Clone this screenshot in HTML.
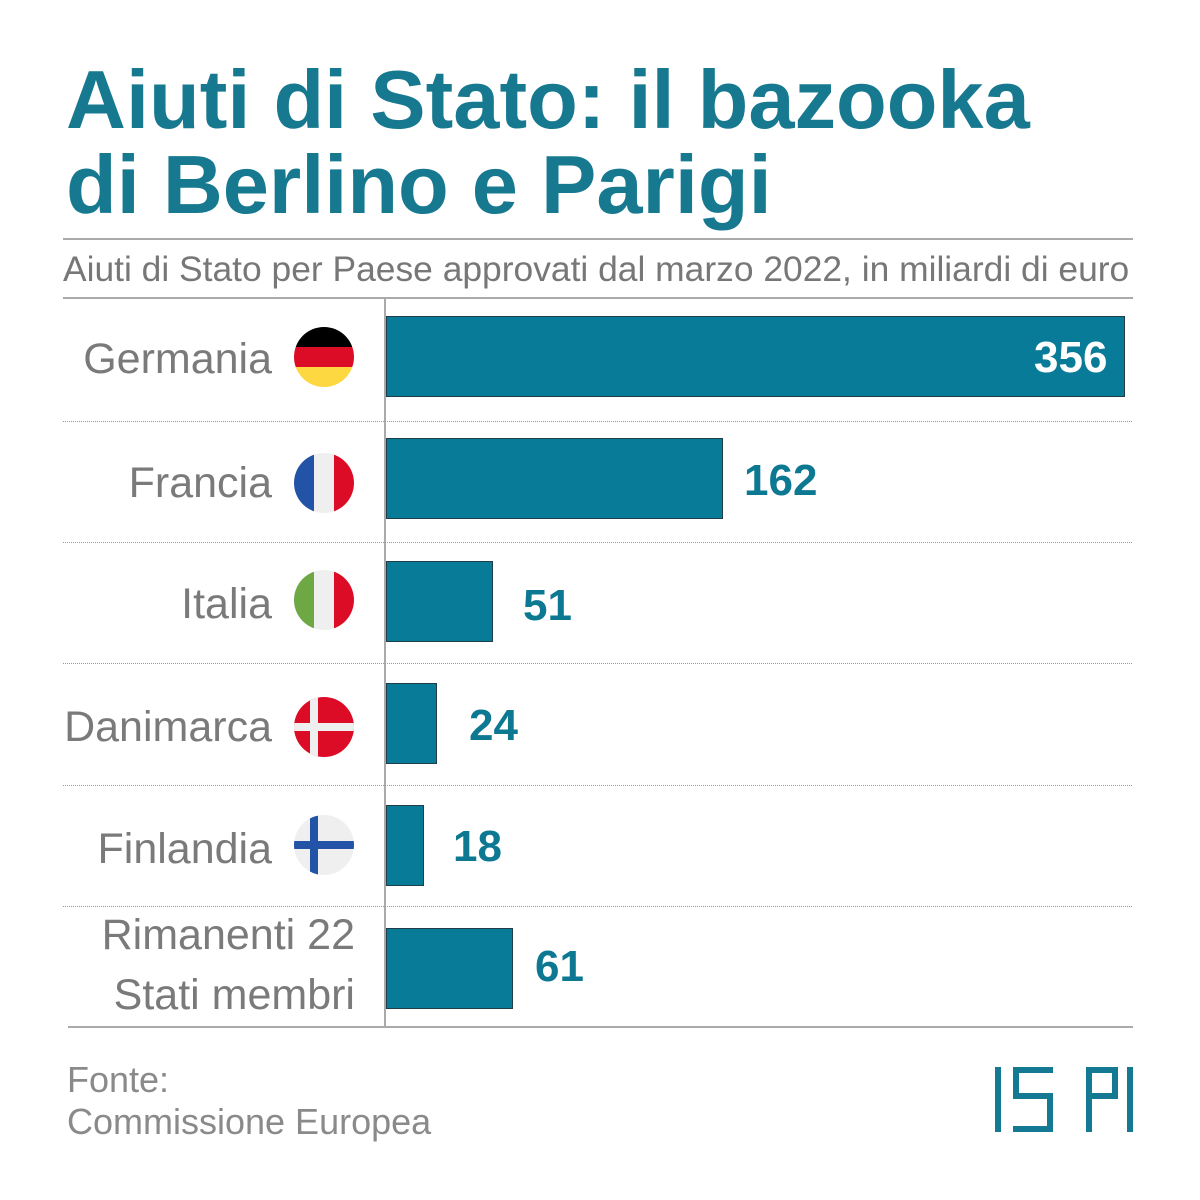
<!DOCTYPE html>
<html><head><meta charset="utf-8"><style>
body{margin:0;background:#fff;width:1200px;height:1200px;overflow:hidden;font-family:"Liberation Sans",sans-serif;}
.a{position:absolute;white-space:nowrap}
.t{color:#17798f;font-weight:bold;font-size:83px;left:66px;letter-spacing:0px}
.lab{color:#7a7a7a;font-size:43px;right:928px;text-align:right}
.bar{position:absolute;left:386px;height:81px;background:#077b97;border:1px solid #1f3e48;box-sizing:border-box}
.val{color:#0d7892;font-weight:bold;font-size:44px}
.dot{position:absolute;left:63px;width:1069px;border-top:1px dotted #999}
</style></head><body>
<div class="a t" style="top:52px">Aiuti di Stato: il bazooka</div>
<div class="a t" style="top:137px">di Berlino e Parigi</div>
<div class="a" style="left:63px;top:238px;width:1070px;border-top:2px solid #aaa"></div>
<div class="a" style="left:63px;top:297px;width:1070px;border-top:2px solid #aaa"></div>
<div class="a" style="left:63px;top:249px;font-size:35.4px;color:#777;">Aiuti di Stato per Paese approvati dal marzo 2022, in miliardi di euro</div>
<div class="a" style="left:384px;top:299px;height:728px;border-left:2px solid #aaa"></div>
<div class="a" style="left:68px;top:1026px;width:1065px;border-top:2px solid #aaa"></div>
<div class="dot" style="top:421px"></div><div class="dot" style="top:542px"></div><div class="dot" style="top:663px"></div><div class="dot" style="top:785px"></div><div class="dot" style="top:906px"></div>
<div class="a lab" style="top:335px">Germania</div>
<div class="a lab" style="top:459px">Francia</div>
<div class="a lab" style="top:580px">Italia</div>
<div class="a lab" style="top:703px">Danimarca</div>
<div class="a lab" style="top:825px">Finlandia</div>
<div class="a lab" style="top:905px;right:845px;line-height:60px">Rimanenti 22<br>Stati membri</div>
<svg class="a" style="left:0;top:0" width="1200" height="1200">
<defs><clipPath id="c"><circle r="30"/></clipPath></defs>
<g transform="translate(324,357)" clip-path="url(#c)"><rect x="-30" y="-30" width="60" height="20" fill="#000"/><rect x="-30" y="-10" width="60" height="20" fill="#dd0c26"/><rect x="-30" y="10" width="60" height="20" fill="#fdd840"/></g>
<g transform="translate(324,483)" clip-path="url(#c)"><rect x="-30" y="-30" width="20" height="60" fill="#2353a7"/><rect x="-10" y="-30" width="20" height="60" fill="#efefef"/><rect x="10" y="-30" width="20" height="60" fill="#dd0c26"/></g>
<g transform="translate(324,600)" clip-path="url(#c)"><rect x="-30" y="-30" width="20" height="60" fill="#6ea845"/><rect x="-10" y="-30" width="20" height="60" fill="#efefef"/><rect x="10" y="-30" width="20" height="60" fill="#dd0c26"/></g>
<g transform="translate(324,727)" clip-path="url(#c)"><rect x="-30" y="-30" width="60" height="60" fill="#dd0c26"/><rect x="-14" y="-30" width="8" height="60" fill="#efefef"/><rect x="-30" y="-4" width="60" height="8" fill="#efefef"/></g>
<g transform="translate(324,845)" clip-path="url(#c)"><rect x="-30" y="-30" width="60" height="60" fill="#efefef"/><rect x="-14" y="-30" width="8" height="60" fill="#2353a7"/><rect x="-30" y="-4" width="60" height="8" fill="#2353a7"/></g>
<g fill="#147a93">
<rect x="995" y="1067" width="6" height="65"/>
<rect x="1013" y="1067" width="40" height="6"/>
<rect x="1013" y="1067" width="6" height="32"/>
<rect x="1013" y="1093" width="40" height="6"/>
<rect x="1047" y="1093" width="6" height="39"/>
<rect x="1013" y="1126" width="40" height="6"/>
<rect x="1086" y="1067" width="6" height="65"/>
<rect x="1086" y="1067" width="32" height="6"/>
<rect x="1112" y="1067" width="6" height="32"/>
<rect x="1086" y="1093" width="32" height="6"/>
<rect x="1127" y="1067" width="6" height="65"/>
</g>
</svg>
<div class="bar" style="top:316px;width:739px"></div>
<div class="bar" style="top:438px;width:337px"></div>
<div class="bar" style="top:561px;width:107px"></div>
<div class="bar" style="top:683px;width:51px"></div>
<div class="bar" style="top:805px;width:38px"></div>
<div class="bar" style="top:928px;width:127px"></div>
<div class="a val" style="top:333px;left:1034px;color:#fff">356</div>
<div class="a val" style="top:456px;left:744px">162</div>
<div class="a val" style="top:581px;left:523px">51</div>
<div class="a val" style="top:701px;left:469px">24</div>
<div class="a val" style="top:822px;left:453px">18</div>
<div class="a val" style="top:942px;left:535px">61</div>
<div class="a" style="left:67px;top:1059px;font-size:36px;color:#8a8a8a;line-height:42px">Fonte:<br>Commissione Europea</div>
</body></html>
